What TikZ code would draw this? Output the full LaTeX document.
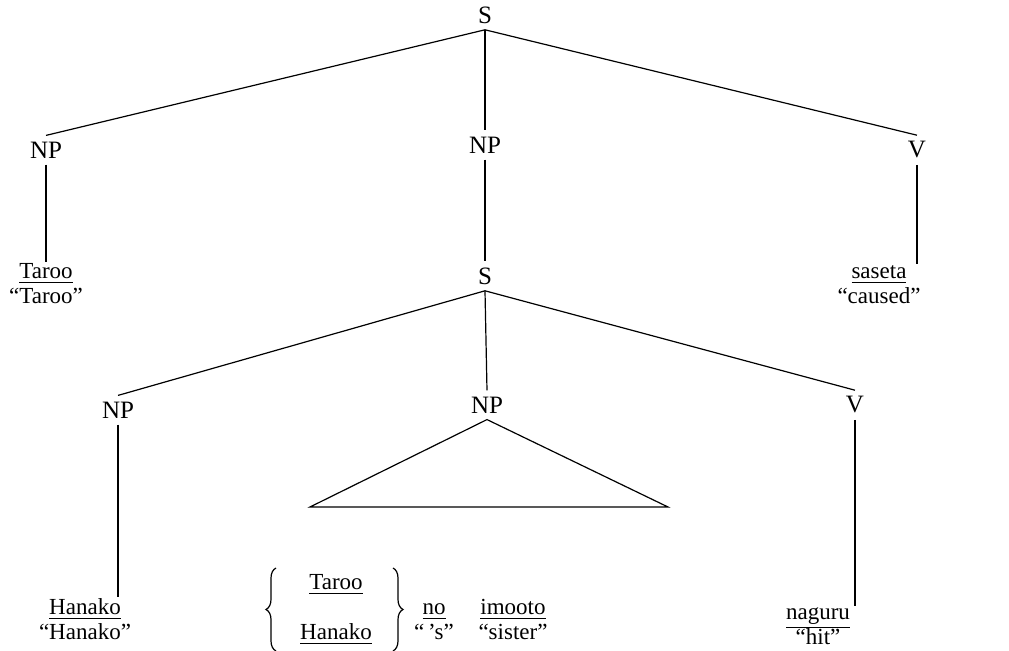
\documentclass[tikz,border=0pt]{standalone}
\usepackage{fontspec}
\setmainfont{Liberation Serif}
\usetikzlibrary{positioning,decorations.pathreplacing}
\tikzset{
    cat/.style = {inner sep=3pt, font=\fontsize{12.5}{15}\selectfont},
    leaf/.style = {inner sep=1pt, anchor=base, font=\fontsize{11.5}{14}\selectfont},
    gloss/.style = {inner sep=1pt, anchor=base, font=\fontsize{11.5}{14}\selectfont},
    branch/.style = {draw, line width=0.6pt},
    curly/.style = {draw, decorate, decoration={brace, amplitude=5pt}, line width=0.6pt}
}

\begin{document}
\begin{tikzpicture}[x=0.5pt, y=-0.5pt]
        \useasboundingbox (0,0) rectangle (1009,651);
        % upper clause
        \node [cat] (s0) at (485,15) {S};
        \node [cat] (np1) at (46,150) {NP};
        \node [cat] (np2) at (485,145) {NP};
        \node [cat] (v1) at (917,150) {V};
        \draw [branch] (s0.south) -- (np1.north);
        \draw [branch] (s0.south) -- (np2.north);
        \draw [branch] (s0.south) -- (v1.north);
        \node [leaf] (taroo) at (46,279) {\underline{Taroo}};
        \node [gloss] (tarooG) at ([yshift=-12.5pt]taroo.base) {``Taroo''};
        \draw [branch] (np1.south) -- (taroo.north);
        \node [leaf] (saseta) at (879,279) {\underline{saseta}};
        \node [gloss] (sasetaG) at ([yshift=-12.5pt]saseta.base) {``caused''};
        \draw [branch] (v1.south) -- (v1.south |- saseta.north);
        % embedded clause
        \node [cat] (s1) at (485,276) {S};
        \draw [branch] (np2.south) -- (s1.north);
        \node [cat] (np3) at (118,410) {NP};
        \node [cat] (np4) at (487,405) {NP};
        \node [cat] (v2) at (855,405) {V};
        \draw [branch] (s1.south) -- (np3.north);
        \draw [branch] (s1.south) -- (np4.north);
        \draw [branch] (s1.south) -- (v2.north);
        \coordinate (triL) at (310,507);
        \coordinate (triR) at (668,507);
        \draw [branch] (np4.south) -- (triL) -- (triR) -- cycle;
        \node [leaf] (hanako) at (85,615) {\underline{Hanako}};
        \node [gloss] (hanakoG) at ([yshift=-12.5pt]hanako.base) {``Hanako''};
        \draw [branch] (np3.south) -- (np3.south |- hanako.north);
        \node [leaf] (naguru) at (818,620) {\underline{naguru}};
        \node [gloss] (naguruG) at ([yshift=-12.5pt]naguru.base) {``hit''};
        \draw [branch] (v2.south) -- (v2.south |- naguru.north);
        % possessor alternatives
        \node [leaf] (altT) at (336,590) {\underline{Taroo}};
        \node [leaf] (altH) at (336,640) {\underline{Hanako}};
        \coordinate (lbTop) at (276,568);
        \coordinate (lbBot) at (276,651);
        \coordinate (rbTop) at (393,568);
        \coordinate (rbBot) at (393,651);
        \draw [curly] (lbBot) -- (lbTop);
        \draw [curly] (rbTop) -- (rbBot);
        \node [leaf] (no) at (434,615) {\underline{no}};
        \node [gloss] (noG) at ([yshift=-12.5pt]no.base) {``\,'s''};
        \node [leaf] (imooto) at (513,615) {\underline{imooto}};
        \node [gloss] (imootoG) at ([yshift=-12.5pt]imooto.base) {``sister''};
    \end{tikzpicture}
\end{document}
